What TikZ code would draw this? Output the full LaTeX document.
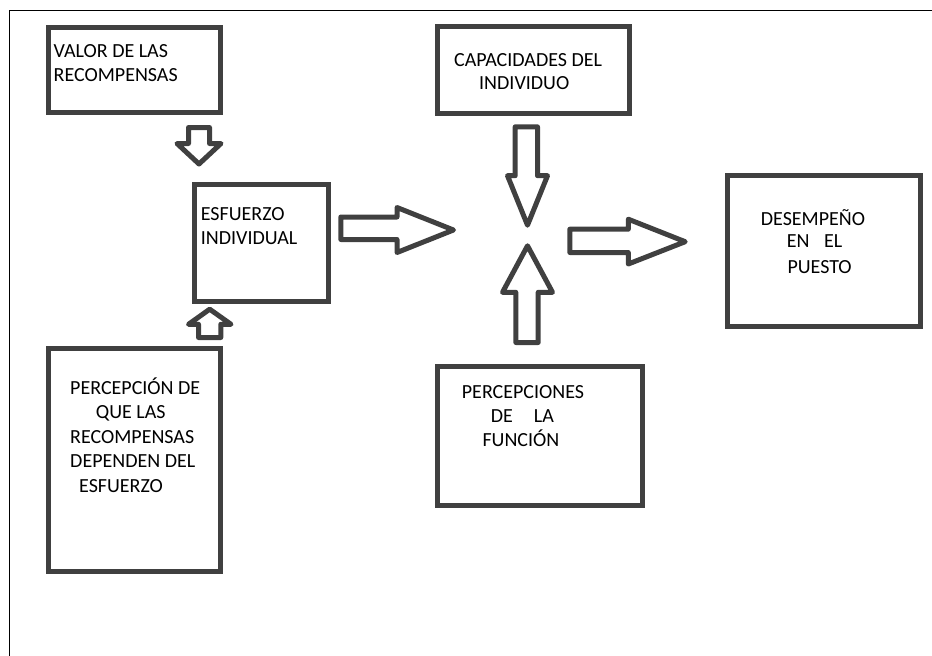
\documentclass[tikz,border=0pt]{standalone}
\usepackage{fontspec}
\setmainfont{Carlito}
\definecolor{strokegray}{HTML}{404040}
\begin{document}
\begin{tikzpicture}[x=1pt,y=-1pt,
  box/.style={draw=strokegray, line width=5pt, rectangle, inner sep=0pt, fill=white},
  lbl/.style={anchor=base west, inner sep=0pt, font=\fontsize{20}{24}\selectfont, text=black},
  barrow/.style={draw=strokegray, line width=5pt, line join=round, fill=white}]
\useasboundingbox (0,0) rectangle (932,656);
\draw[line width=1.5pt] (932,10.5) -- (9.5,10.5) -- (9.5,656);

% boxes
\node[box, minimum width=172pt, minimum height=85pt] (valor) at (134,70) {};
\node[box, minimum width=134pt, minimum height=117pt] (esf) at (261,242.5) {};
\node[box, minimum width=192pt, minimum height=87pt] (cap) at (533.5,70) {};
\node[box, minimum width=193pt, minimum height=151pt] (des) at (824,251) {};
\node[box, minimum width=172pt, minimum height=222.5pt] (perc) at (134,459.75) {};
\node[box, minimum width=205pt, minimum height=139pt] (func) at (539.5,435.5) {};

% texts
\node[lbl] (t1) at (53.5,57.7) {VALOR DE LAS};
\node[lbl] (t2) at (53.5,81) {RECOMPENSAS};
\node[lbl] (t3) at (200.7,220) {ESFUERZO};
\node[lbl] (t4) at (200.7,244) {INDIVIDUAL};
\node[lbl] (t5) at (454,66.7) {CAPACIDADES DEL};
\node[lbl] (t6) at (479,89.3) {INDIVIDUO};
\node[lbl] (t7) at (760.7,225) {DESEMPEÑO};
\node[lbl] (t8) at (786.7,247.7) {EN\hspace{14.5pt}EL};
\node[lbl] (t9) at (787.3,273.3) {PUESTO};
\node[lbl] (t10) at (70,394.3) {PERCEPCIÓN DE};
\node[lbl] (t11) at (95.7,418.3) {QUE LAS};
\node[lbl] (t12) at (70,443.3) {RECOMPENSAS};
\node[lbl] (t13) at (70,467.7) {DEPENDEN DEL};
\node[lbl] (t14) at (79,492.3) {ESFUERZO};
\node[lbl] (t15) at (461.7,398.3) {PERCEPCIONES};
\node[lbl] (t16) at (490.7,422.7) {DE\hspace{21pt}LA};
\node[lbl] (t17) at (482.3,446.7) {FUNCIÓN};

% block arrows
\draw[barrow] (188.5,127.5) -- (209.5,127.5) -- (209.5,143.5) -- (221,143.5) -- (199,164) -- (177,143.5) -- (188.5,143.5) -- cycle;
\draw[barrow] (198.5,337.5) -- (220.8,337.5) -- (220.8,324.3) -- (231,324.3) -- (209.7,309.2) -- (188.5,324.3) -- (198.5,324.3) -- cycle;
\draw[barrow] (340.8,217) -- (397,217) -- (397,207.5) -- (453.5,230) -- (397,252.5) -- (397,239.5) -- (340.8,239.5) -- cycle;
\draw[barrow] (515.2,126.8) -- (537.5,126.8) -- (537.5,175.7) -- (547.5,175.7) -- (527.5,225.2) -- (507.5,175.7) -- (515.2,175.7) -- cycle;
\draw[barrow] (515.8,342.5) -- (538.2,342.5) -- (538.2,292.3) -- (552.5,292.3) -- (527.5,245.8) -- (502.5,292.3) -- (515.8,292.3) -- cycle;
\draw[barrow] (569.8,229.2) -- (628.3,229.2) -- (628.3,219.2) -- (685.2,241.7) -- (628.3,264) -- (628.3,252.5) -- (569.8,252.5) -- cycle;
\end{tikzpicture}
\end{document}
